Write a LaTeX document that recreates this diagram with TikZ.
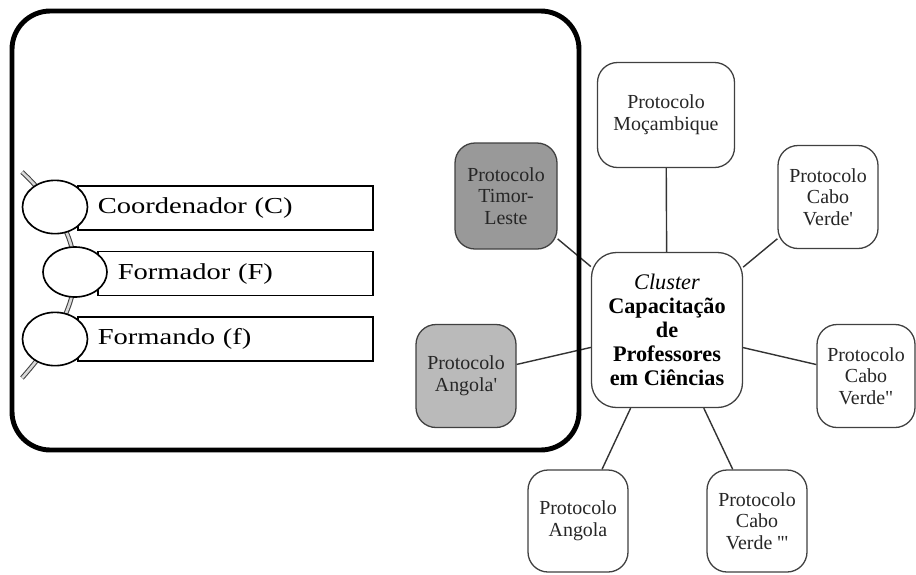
\documentclass[tikz,border=0pt]{standalone}
\usepackage{fontspec}
\setmainfont{Liberation Serif}
\newfontfamily\listfont{Liberation Serif}[FakeStretch=1.25]
\usetikzlibrary{shapes.geometric}
\begin{document}
\begin{tikzpicture}[x=0.03cm,y=-0.03cm,
 frame/.style={line width=4.2pt,rounded corners=1.15cm},
 bar/.style={draw,line width=1.4pt,fill=white,anchor=west,inner xsep=0.6cm,inner ysep=0pt,minimum height=1.31cm,align=left,font=\listfont\fontsize{19.5}{22}\selectfont},
 dot/.style={draw,line width=1.4pt,fill=white,ellipse,minimum width=1.95cm,minimum height=1.6cm,inner sep=0pt},
 rail/.style={draw=black!75,line width=0.9pt,double=black!15,double distance=2.2pt},
 proto/.style={draw=black!75,line width=1.1pt,fill=white,rounded corners=0.6cm,align=center,inner sep=0pt,minimum width=3cm,minimum height=3.09cm,text=black!85,font=\fontsize{17}{18.5}\selectfont},
 hub/.style={draw=black!75,line width=1.1pt,fill=white,rounded corners=0.75cm,align=center,inner sep=0pt,minimum width=4.53cm,minimum height=4.65cm,font=\fontsize{19}{20.5}\selectfont},
 link/.style={draw=black!80,line width=1.2pt}]
 \useasboundingbox (0,0) rectangle (916,574);
 \coordinate (railtop) at (22,172);
 \coordinate (railbot) at (22,378);
 \node[bar,text width=7.65cm] (barC) at (77,208) {Coordenador (C)};
 \node[bar,text width=7.05cm] (barF) at (97,273.5) {Formador (F)};
 \node[bar,text width=7.65cm] (barf) at (77,339) {Formando (f)};
 \draw[rail](railtop) .. controls (52,200) and (75,235) .. (75,272) .. controls (75,309) and (52,344) .. (railbot);
 \node[dot] (dotC) at (55,207) {};
 \node[dot,minimum width=1.92cm,minimum height=1.5cm] (dotF) at (75,272) {};
 \node[dot] (dotf) at (55,339) {};
 \node[hub] (cluster) at (667,330) {\textit{\textmd{Cluster}}\\\textbf{Capacitação}\\\textbf{de}\\\textbf{Professores}\\\textbf{em Ciências}};
 \node[proto,minimum width=4.11cm,minimum height=3.15cm] (moz) at (666,115) {Protocolo\\Moçambique};
 \node[proto] (cv1) at (828,197) {Protocolo\\Cabo\\Verde\textquotesingle};
 \node[proto,fill=black!40,minimum width=3.06cm,minimum height=3.18cm] (timor) at (506,196) {Protocolo\\Timor-\\Leste};
 \node[proto,fill=black!27] (ang1) at (466,376) {Protocolo\\Angola\textquotesingle};
 \node[proto,minimum width=2.94cm] (cv2) at (866,376) {Protocolo\\Cabo\\Verde\textquotedbl};
 \node[proto,minimum height=3.06cm] (ang) at (578,521) {Protocolo\\Angola};
 \node[proto,minimum height=3.06cm] (cv3) at (757,521) {Protocolo\\Cabo\\Verde \textquotesingle\textquotesingle\textquotesingle};
 \draw[link](cluster) -- (moz);
 \draw[link](cluster) -- (cv1);
 \draw[link](cluster) -- (timor);
 \draw[link](cluster) -- (ang1);
 \draw[link](cluster) -- (cv2);
 \draw[link](cluster) -- (ang);
 \draw[link](cluster) -- (cv3);
 \draw[frame](12,11) rectangle (579,450);
\end{tikzpicture}
\end{document}
